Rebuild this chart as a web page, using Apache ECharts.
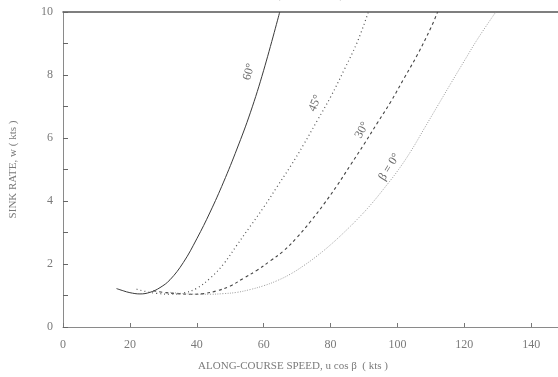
<!DOCTYPE html>
<html>
<head>
<meta charset="utf-8">
<script src="https://cdn.jsdelivr.net/npm/echarts@6/dist/echarts.min.js"></script>
<style>
  html, body { margin: 0; padding: 0; background: #fff; }
  #chart { width: 558px; height: 377px; }
</style>
</head>
<body>
<div id="chart"></div>
<script>
// Sink rate vs along-course speed for several bank angles (beta)
const bankLabels = ['60°', '45°', '30°', 'β = 0°'];

const beta60 = [[16,1.22],[18,1.15],[20,1.09],[23,1.05],[26,1.1],[29,1.25],[32,1.5],[36,2.05],[40,2.8],[44,3.65],[48,4.6],[52,5.65],[56,6.8],[60,8.15],[64.8,10]];
const beta45 = [[22,1.2],[25,1.12],[28,1.07],[32,1.04],[36,1.08],[40,1.23],[44,1.55],[48,2.0],[52,2.6],[56,3.2],[60,3.8],[64,4.45],[68,5.1],[72,5.8],[76,6.55],[80,7.3],[84,8.15],[88,9.05],[91.3,10]];
const beta30 = [[27,1.15],[30,1.1],[34,1.06],[38,1.04],[42,1.06],[46,1.15],[50,1.3],[54,1.55],[58,1.8],[62,2.1],[66,2.42],[70,2.85],[74,3.35],[78,3.9],[82,4.5],[86,5.15],[90,5.8],[94,6.48],[98,7.15],[102,7.9],[106,8.65],[110,9.5],[112,10]];
const beta0  = [[32,1.1],[36,1.06],[40,1.04],[44,1.04],[48,1.06],[52,1.1],[56,1.19],[60,1.31],[64,1.47],[68,1.68],[72,1.95],[76,2.26],[80,2.61],[84,3.0],[88,3.42],[92,3.88],[96,4.4],[100,4.95],[104,5.58],[108,6.3],[112,7.02],[116,7.74],[120,8.45],[124,9.15],[129.4,10]];

// where each curve's angle label sits (data coords) and its rotation
const labelAnchors = [[55.6, 8.1], [75.4, 7.1], [89.4, 6.25], [97.6, 5.08]];
const labelRotations = [75, 66, 62, 58];

const xTicks = [0, 20, 40, 60, 80, 100, 120, 140];
const yTicks = [0, 2, 4, 6, 8, 10];

const ink = '#7a7a7a';
const font = 'Liberation Serif';

const chart = echarts.init(document.getElementById('chart'));

function curve(data, color, type, width) {
  return {
    type: 'line', data: data, smooth: 0.4, symbol: 'none',
    lineStyle: { color: color, type: type, width: width },
    animation: false
  };
}

chart.setOption({
  animation: false,
  backgroundColor: '#ffffff',
  grid: { left: 58, right: 0, top: 12, bottom: 50 },
  xAxis: [{
    type: 'value', min: 0, max: 148, interval: 20,
    axisLine: { show: true, lineStyle: { color: '#8a8a8a', width: 1 } },
    axisTick: { show: true, inside: true, length: 4, lineStyle: { color: '#777' } },
    axisLabel: {
      color: ink, fontFamily: font, fontSize: 12, margin: 12,
      showMaxLabel: false,
      formatter: v => (xTicks.indexOf(v) >= 0 ? String(v) : '')
    },
    splitLine: { show: false }
  }, {
    type: 'value', min: 0, max: 148, position: 'top',
    axisLine: { show: true, lineStyle: { color: '#555', width: 1.5 } },
    axisTick: { show: false }, axisLabel: { show: false }, splitLine: { show: false }
  }],
  yAxis: {
    type: 'value', min: 0, max: 10, interval: 1,
    name: 'SINK RATE, w ( kts )', nameLocation: 'middle', nameGap: 44, nameRotate: 90,
    nameTextStyle: { color: ink, fontFamily: font, fontSize: 11 },
    axisLine: { show: true, lineStyle: { color: '#8a8a8a', width: 1 } },
    axisTick: { show: true, inside: true, length: 5, lineStyle: { color: '#666' } },
    axisLabel: {
      color: ink, fontFamily: font, fontSize: 12, margin: 10,
      formatter: v => (yTicks.indexOf(v) >= 0 ? String(v) : '')
    },
    splitLine: { show: false }
  },
  series: [
    curve(beta60, '#3a3a3a', 'solid', 1),
    curve(beta45, '#555555', [1, 3], 1.2),
    curve(beta30, '#444444', [3, 3], 1.1),
    curve(beta0, '#9a9a9a', [1, 1.5], 1)
  ]
});

// curve labels and axis title placed through the chart's own coordinate conversion
const graphics = labelAnchors.map((p, i) => {
  const px = chart.convertToPixel({ gridIndex: 0 }, p);
  return {
    type: 'text', x: px[0], y: px[1], rotation: labelRotations[i] * Math.PI / 180,
    style: {
      text: bankLabels[i], fill: '#6a6a6a', font: '12px "' + font + '"',
      align: 'center', verticalAlign: 'middle'
    }
  };
});
graphics.push({
  type: 'text', x: 293, y: 366,
  style: {
    text: 'ALONG-COURSE SPEED, u cos β  ( kts )', fill: ink,
    font: '11px "' + font + '"', align: 'center', verticalAlign: 'middle'
  }
});
graphics.push({
  type: 'text', x: 310, y: -5,
  style: {
    text: '( NO WIND )', fill: '#9a9a9a',
    font: '12px "' + font + '"', align: 'center', verticalAlign: 'middle'
  }
});
chart.setOption({ graphic: graphics });
</script>
</body>
</html>
